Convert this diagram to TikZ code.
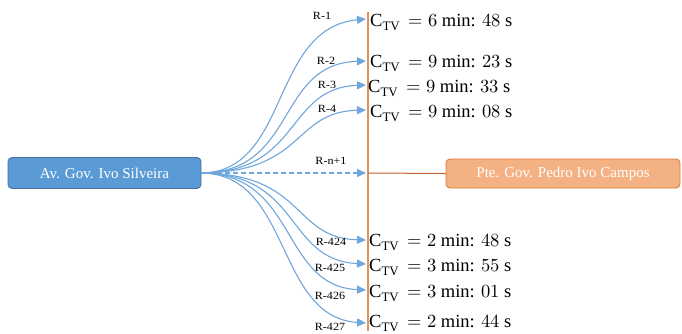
\documentclass[tikz,border=0pt]{standalone}
\usepackage{fontspec}
\setmainfont{Liberation Serif}
\usepackage{unicode-math}
\usetikzlibrary{arrows.meta}
\definecolor{bfill}{HTML}{5B9BD5}
\definecolor{bdraw}{HTML}{41719C}
\definecolor{ofill}{HTML}{F4B183}
\definecolor{odraw}{HTML}{D9782F}
\definecolor{oline}{HTML}{E0925A}
\definecolor{hline}{HTML}{C0602A}
\definecolor{aline}{HTML}{6FA6DC}
\begin{document}
\begin{tikzpicture}[x=1pt,y=-1pt,
  boxb/.style={draw=bdraw,fill=bfill,rounded corners=4pt,line width=0.8pt,minimum height=31pt,text=white,font=\fontsize{15}{17}\selectfont,inner sep=0pt},
  boxo/.style={draw=odraw,fill=ofill,rounded corners=4pt,line width=0.8pt,minimum height=29pt,text=white,font=\fontsize{15}{17}\selectfont,inner sep=0pt},
  conn/.style={aline,line width=1.1pt,-{Triangle[length=9pt,width=8pt]}},
  rlab/.style={font=\fontsize{11}{12}\selectfont,inner sep=0pt,xscale=1.1},
  ctv/.style={anchor=base west,font=\fontsize{18.5}{20}\selectfont,inner sep=0pt}]
\useasboundingbox (0,0) rectangle (682,333);
\node[boxb,minimum width=193pt] (av) at (104.5,173) {Av. Gov. Ivo Silveira};
\node[boxo,minimum width=234pt] (pte) at (563,173.5) {Pte. Gov. Pedro Ivo Campos};
\coordinate (vt) at (368,12);
\coordinate (vb) at (368,331);
\coordinate (vm) at (368,173);
\draw[oline,line width=1.4pt] (vt) -- (vb);
\draw[hline,line width=1pt] (vm) -- (pte.west);
\foreach \n/\y in {e1/19,e2/61,e3/85,e4/110,e5/173,e6/240,e7/264,e8/290,e9/323}{
  \coordinate (\n) at (366,\y);
}
\draw[conn] (av.east) .. controls (290,172) and (270,28) .. (e1);
\draw[conn] (av.east) .. controls (298,172) and (275,64) .. (e2);
\draw[conn] (av.east) .. controls (302,172) and (285,88) .. (e3);
\draw[conn] (av.east) .. controls (306,172) and (292,112) .. (e4);
\draw[conn,dash pattern=on 5pt off 3pt] (av.east) -- (e5);
\draw[conn] (av.east) .. controls (306,174) and (292,238) .. (e6);
\draw[conn] (av.east) .. controls (302,174) and (285,260) .. (e7);
\draw[conn] (av.east) .. controls (298,174) and (280,286) .. (e8);
\draw[conn] (av.east) .. controls (292,174) and (275,317) .. (e9);
\node[rlab] (l1) at (322,16) {R-1};
\node[rlab] (l2) at (326,61) {R-2};
\node[rlab] (l3) at (327,85) {R-3};
\node[rlab] (l4) at (327,109) {R-4};
\node[rlab] (l5) at (331,161) {R-n+1};
\node[rlab] (l6) at (331,242) {R-424};
\node[rlab] (l7) at (330,268) {R-425};
\node[rlab] (l8) at (330,296) {R-426};
\node[rlab] (l9) at (330,327) {R-427};
\newcommand{\ctvtext}[2]{$\mathrm{C}_{\mathrm{TV}}\,=#1\text{ min: }#2\text{ s}$}
\node[ctv] (t1) at (370,26) {\ctvtext{6}{48}};
\node[ctv] (t2) at (370,67) {\ctvtext{9}{23}};
\node[ctv] (t3) at (368,92) {\ctvtext{9}{33}};
\node[ctv] (t4) at (370,117) {\ctvtext{9}{08}};
\node[ctv] (t6) at (369,246) {\ctvtext{2}{48}};
\node[ctv] (t7) at (369,271) {\ctvtext{3}{55}};
\node[ctv] (t8) at (369,297) {\ctvtext{3}{01}};
\node[ctv] (t9) at (369,327) {\ctvtext{2}{44}};
\end{tikzpicture}
\end{document}
